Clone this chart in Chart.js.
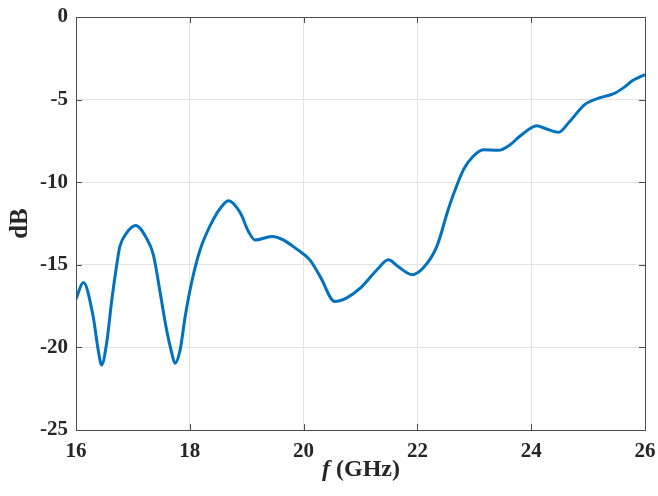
<!DOCTYPE html>
<html>
<head>
<meta charset="utf-8">
<script src="https://cdn.jsdelivr.net/npm/chart.js@4"></script>
<style>
  html, body { margin: 0; padding: 0; background: #fff; }
  #wrap { position: relative; width: 658px; height: 496px; }
  #xlabel {
    position: absolute; left: 0; width: 722px; top: 455px;
    text-align: center; font: bold 24px "Liberation Serif", serif; color: #262626;
  }
</style>
</head>
<body>
<div id="wrap">
  <canvas id="chart" width="658" height="496"></canvas>
  <div id="xlabel"><i>f</i> (GHz)</div>
</div>
<script>
// частота, ГГц
const freq = [16.0, 16.13, 16.30, 16.39, 16.45, 16.54, 16.63, 16.72, 16.77, 16.89, 17.05,
  17.24, 17.36, 17.48, 17.59, 17.68, 17.74, 17.83, 17.92, 18.03, 18.18, 18.41, 18.56, 18.68,
  18.89, 19.03, 19.15, 19.44, 19.94, 20.11, 20.29, 20.55, 20.76, 21.0, 21.29,
  21.49, 21.66, 21.91, 22.1, 22.34, 22.54, 22.6, 22.81, 22.98, 23.16, 23.42,
  23.63, 23.8, 24.1, 24.27, 24.48, 24.68, 24.94, 25.2, 25.44, 25.62, 25.79, 26.0];
// уровень, дБ
const level = [-17.06, -16.07, -18.1, -20.15, -21.06, -19.7, -17.1, -14.9, -13.9, -13.07, -12.62,
  -13.4, -14.4, -16.7, -18.9, -20.3, -20.96, -20.15, -18.1, -16.1, -14.1, -12.27, -11.47, -11.12,
  -11.87, -12.98, -13.5, -13.28, -14.2, -14.7, -15.7, -17.22, -17.0, -16.4, -15.3,
  -14.7, -15.1, -15.6, -15.2, -13.9, -11.67, -11.06, -9.24, -8.43, -8.03, -8.07,
  -7.73, -7.22, -6.58, -6.78, -6.98, -6.31, -5.3, -4.9, -4.66, -4.29, -3.83, -3.48];

const xTicks = [16, 18, 20, 22, 24, 26];
const yTicks = [0, -5, -10, -15, -20, -25];

const points = freq.map((f, i) => ({ x: f, y: level[i] }));

// рамка и внутренние засечки как в MATLAB
const framePlugin = {
  id: 'frame',
  afterDatasetsDraw(chart) {
    const { ctx, chartArea: a, scales } = chart;
    ctx.save();
    ctx.strokeStyle = '#4d4d4d';
    ctx.lineWidth = 1;
    ctx.beginPath();
    xTicks.forEach(v => {
      const px = Math.round(scales.x.getPixelForValue(v)) + 0.5;
      ctx.moveTo(px, a.bottom); ctx.lineTo(px, a.bottom - 6);
      ctx.moveTo(px, a.top); ctx.lineTo(px, a.top + 6);
    });
    yTicks.forEach(v => {
      const py = Math.round(scales.y.getPixelForValue(v)) + 0.5;
      ctx.moveTo(a.left, py); ctx.lineTo(a.left + 6, py);
      ctx.moveTo(a.right, py); ctx.lineTo(a.right - 6, py);
    });
    ctx.stroke();
    ctx.strokeRect(Math.round(a.left) + 0.5, Math.round(a.top) + 0.5,
      Math.round(a.right - a.left), Math.round(a.bottom - a.top));
    ctx.restore();
  }
};

const tickFont = { family: '"Liberation Serif", serif', size: 21, weight: 'bold' };

new Chart(document.getElementById('chart').getContext('2d'), {
  type: 'line',
  data: {
    datasets: [{
      data: points,
      borderColor: '#0072BD',
      borderWidth: 3,
      pointRadius: 0,
      cubicInterpolationMode: 'monotone',
      fill: false
    }]
  },
  options: {
    responsive: false,
    animation: false,
    layout: { padding: { left: 0, top: 17, right: 13, bottom: 0 } },
    plugins: { legend: { display: false }, tooltip: { enabled: false } },
    scales: {
      x: {
        type: 'linear',
        min: 16, max: 26,
        afterBuildTicks: s => { s.ticks = xTicks.map(v => ({ value: v })); },
        afterFit: s => { s.height = 66; s.paddingLeft = 0; s.paddingRight = 0; },
        grid: { color: '#e3e3e3', drawTicks: false },
        border: { display: false },
        ticks: { font: tickFont, color: '#262626', padding: 9, maxRotation: 0 }
      },
      y: {
        min: -25, max: 0,
        afterBuildTicks: s => { s.ticks = yTicks.map(v => ({ value: v })); },
        afterFit: s => { s.width = 76; s.paddingTop = 0; s.paddingBottom = 0; },
        grid: { color: '#e3e3e3', drawTicks: false },
        border: { display: false },
        title: {
          display: true, text: 'dB', color: '#262626',
          font: { family: '"Liberation Serif", serif', size: 25, weight: 'bold' },
          padding: { top: 6, bottom: 0 }
        },
        ticks: { font: tickFont, color: '#262626', padding: 8 }
      }
    }
  },
  plugins: [framePlugin]
});
</script>
</body>
</html>
